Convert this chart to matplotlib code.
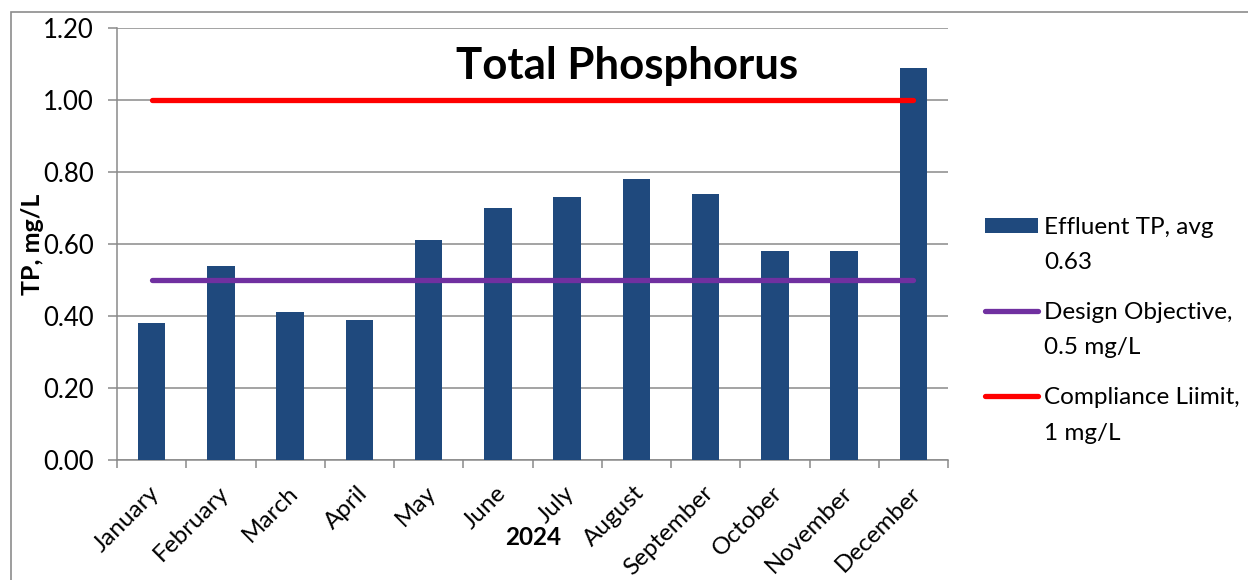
import matplotlib
matplotlib.use("Agg")
import matplotlib.pyplot as plt
import numpy as np
from matplotlib.patches import Rectangle
from matplotlib.transforms import Affine2D, ScaledTranslation
from matplotlib.legend_handler import HandlerLine2D, HandlerPatch

plt.rcParams['font.family'] = ['Lato', 'DejaVu Sans']

months = ["January", "February", "March", "April", "May", "June", "July",
          "August", "September", "October", "November", "December"]
effluent_tp = [0.38, 0.54, 0.41, 0.39, 0.61, 0.70, 0.73, 0.78, 0.74, 0.58, 0.58, 1.09]
design_objective = [0.5] * 12
compliance_limit = [1.0] * 12
y_ticks = [0.0, 0.2, 0.4, 0.6, 0.8, 1.0, 1.2]

navy = "#1F497D"
purple = "#7030A0"
red = "#FF0000"
grid_gray = "#8A8A8A"
RAISE = 0.8


# legend handles sit level with the first line of a two-line label
class RaisedLine(HandlerLine2D):
    def create_artists(self, legend, orig_handle, xdescent, ydescent, width, height, fontsize, trans):
        trans = Affine2D().translate(0, RAISE * fontsize) + trans
        return super().create_artists(legend, orig_handle, xdescent, ydescent, width, height, fontsize, trans)


class RaisedPatch(HandlerPatch):
    def create_artists(self, legend, orig_handle, xdescent, ydescent, width, height, fontsize, trans):
        trans = Affine2D().translate(0, RAISE * fontsize) + trans
        return super().create_artists(legend, orig_handle, xdescent, ydescent, width, height, fontsize, trans)


W, H = 1248, 580
fig = plt.figure(figsize=(W / 100, H / 100), dpi=100)
ax = fig.add_axes([117 / W, 1 - 460 / H, (948 - 117) / W, (460 - 28) / H])

# outer chart border (only left/top edges show in the picture)
fig.add_artist(Rectangle((11 / W, -0.1), 1.2, 1.1 - 12 / H, transform=fig.transFigure,
                         fill=False, edgecolor="#8C8C8C", linewidth=1.2))

x = np.arange(len(months))
bars = ax.bar(x, effluent_tp, width=0.4, color=navy, zorder=3)
l_design, = ax.plot(x, design_objective, color=purple, linewidth=3.8, solid_capstyle="round", zorder=4)
l_limit, = ax.plot(x, compliance_limit, color=red, linewidth=3.8, solid_capstyle="round", zorder=4)

ax.set_xlim(-0.5, len(months) - 0.5)
ax.set_ylim(0, 1.2)
ax.set_yticks(y_ticks)
ax.set_yticklabels([f"{v:.2f}" for v in y_ticks])
ax.yaxis.grid(True, color=grid_gray, linewidth=1.1, zorder=0)
ax.tick_params(axis="y", length=6.5, width=1.1, color=grid_gray, labelsize=18.5, pad=10)

ax.set_xticks(x)
ax.set_xticklabels(months, rotation=45, ha="right", va="top", rotation_mode="anchor")
ax.set_xticks(np.arange(-0.5, len(months)), minor=True)
ax.tick_params(axis="x", which="major", length=0, labelsize=17.5, pad=16)
ax.tick_params(axis="x", which="minor", length=6, width=1.1, color=grid_gray)
for lbl in ax.get_xticklabels():
    lbl.set_transform(lbl.get_transform() + ScaledTranslation(-3 / 100, 0, fig.dpi_scale_trans))

for s in ["top", "right"]:
    ax.spines[s].set_visible(False)
for s in ["left", "bottom"]:
    ax.spines[s].set_color(grid_gray)
    ax.spines[s].set_linewidth(1.1)

ax.set_ylabel("TP, mg/L", fontsize=18, fontweight="bold")
ax.yaxis.set_label_coords(-73 / (948 - 117), 0.5)
ax.set_xlabel("2024", fontsize=17.5, fontweight="bold")
ax.xaxis.set_label_coords((533 - 117) / (948 - 117), -(526 - 460) / (460 - 28))

ax.text((627 - 117) / (948 - 117), (460 - 66) / (460 - 28), "Total Phosphorus",
        transform=ax.transAxes, ha="center", va="center", fontsize=31.5, fontweight="bold")

# bars[0] as the handle so the Rectangle handler below is picked up
leg = fig.legend([bars[0], l_design, l_limit],
                 ["Effluent TP, avg\n0.63", "Design Objective,\n0.5 mg/L", "Compliance Liimit,\n1 mg/L"],
                 loc="upper left", bbox_to_anchor=(963 / W, 1 - 195 / H),
                 frameon=False, fontsize=17.5, handlelength=2.2, handleheight=0.58,
                 handletextpad=0.25, labelspacing=1.18,
                 handler_map={Rectangle: RaisedPatch(), type(l_design): RaisedLine()})
for t in leg.get_texts():
    t.set_linespacing(1.85)

fig.savefig("out.png", dpi=100)
